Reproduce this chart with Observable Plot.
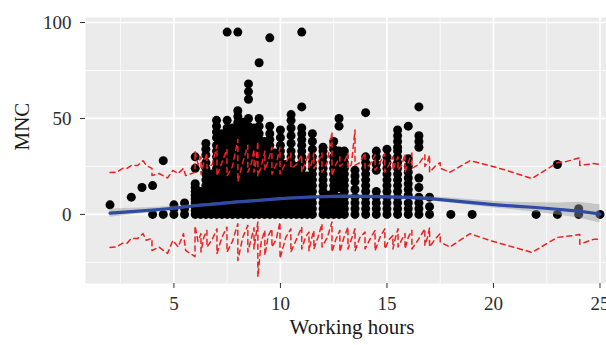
<!DOCTYPE html>
<html>
<head>
<meta charset="utf-8">
<script src="https://cdn.jsdelivr.net/npm/d3@7"></script>
<script src="https://cdn.jsdelivr.net/npm/@observablehq/plot@0.6"></script>
<style>
  html, body { margin: 0; padding: 0; background: white; overflow: hidden; }
</style>
</head>
<body>
<div id="chart"></div>
<script>
// ---- Data ----
const colHours = [2, 3, 3.5, 4, 4.5, 5, 5.5, 6, 6.25, 6.5, 6.75, 7, 7.25, 7.5, 7.75, 8, 8.25, 8.5, 8.75, 9, 9.25, 9.5, 9.75,
  10, 10.25, 10.5, 10.75, 11, 11.25, 11.5, 12, 12.25, 12.5, 12.75, 13, 13.5, 14, 14.5, 15, 15.5, 16, 16.5, 17, 18, 19, 22, 23, 24, 25];
const colMNC = [
  [5], [9], [14], [0, 15], [0, 28], [0, 3, 5], [0, 3, 6],
  [0, 2, 4, 6, 8, 10, 12, 14, 16, 24, 30],
  [0, 3, 6, 9, 12],
  [0, 3, 6, 9, 12, 15, 18, 21, 24, 27, 31, 34, 37],
  [0, 3, 6, 9, 12, 15, 18, 21],
  [0, 3, 6, 9, 12, 15, 18, 21, 24, 27, 30, 33, 36, 40, 43, 46, 49],
  [0, 3, 6, 9, 12, 15, 18, 21, 24, 27, 30, 34, 38, 42],
  [0, 3, 6, 9, 12, 15, 18, 21, 24, 27, 30, 33, 36, 39, 42, 45, 49, 95],
  [0, 3, 6, 9, 12, 15, 18, 21, 24, 27, 30, 33, 37, 41, 45],
  [0, 3, 6, 9, 12, 15, 18, 21, 24, 27, 30, 33, 36, 39, 42, 45, 48, 51, 54, 95],
  [0, 3, 6, 9, 12, 15, 18, 21, 24, 27, 30, 33, 36, 40, 44, 48],
  [0, 3, 6, 9, 12, 15, 18, 21, 24, 27, 30, 33, 36, 39, 42, 46, 50, 60, 64, 68],
  [0, 3, 6, 9, 12, 15, 18, 21, 24, 27, 30, 33, 37, 41, 45],
  [0, 3, 6, 9, 12, 15, 18, 21, 24, 27, 30, 33, 36, 39, 42, 46, 50, 79],
  [0, 3, 6, 9, 12, 15, 18, 21, 24, 27, 30, 34, 38],
  [0, 3, 6, 9, 12, 15, 18, 21, 24, 27, 30, 33, 36, 39, 42, 46, 92],
  [0, 3, 6, 9, 12, 15, 18, 21, 24, 28, 32],
  [0, 3, 6, 9, 12, 15, 18, 21, 24, 27, 30, 33, 36, 40, 44],
  [0, 3, 6, 9, 12, 15, 18, 22, 26],
  [0, 3, 6, 9, 12, 15, 18, 21, 24, 27, 30, 33, 37, 41, 45, 49, 52],
  [0, 3, 6, 9, 12, 15, 18, 21, 25],
  [0, 3, 6, 9, 12, 15, 18, 21, 24, 27, 30, 33, 36, 39, 42, 45, 56, 95],
  [0, 3, 6, 9, 12, 16, 20],
  [0, 3, 6, 9, 12, 15, 18, 21, 24, 27, 30, 34, 38, 42],
  [0, 3, 6, 9, 12, 15, 18, 21, 24, 27, 30, 33, 35],
  [0, 3, 6, 10],
  [0, 3, 6, 9, 12, 15, 18, 21, 24, 27, 30, 34, 38],
  [0, 3, 6, 9, 14, 18, 22, 26, 30, 33, 46, 50],
  [0, 3, 6, 9, 12, 15, 18, 21, 24, 27, 30, 33],
  [0, 3, 6, 9, 13, 17, 20, 23],
  [0, 3, 6, 9, 12, 15, 18, 21, 24, 27, 30, 53],
  [0, 3, 6, 9, 12, 23, 26, 30, 33],
  [0, 3, 6, 9, 12, 15, 18, 21, 24, 27, 30, 34],
  [0, 3, 6, 9, 12, 15, 18, 21, 24, 27, 30, 33, 35, 38, 41, 44],
  [0, 3, 6, 10, 13, 16, 19, 22, 25, 29, 46],
  [0, 3, 6, 9, 14, 19, 35, 38, 41, 56],
  [0, 4, 9], [0], [0], [0], [0, 26], [0, 3], [0]
];

// smooth fit with confidence band
const smoothHours = [2, 3, 4, 5, 6, 7, 8, 9, 10, 11, 12, 13, 14, 15, 16, 17, 18, 19, 20, 21, 22, 23, 24, 25];
const smoothFit  = [0.7, 1.5, 2.3, 3.2, 4.5, 5.5, 6.5, 7.3, 8.2, 8.8, 9.3, 9.5, 9.4, 9.1, 8.8, 8.2, 7.2, 6.1, 5.1, 4.3, 3.6, 2.7, 1.7, 0.2];
const smoothLow  = [-1.5, -0.2, 1.0, 2.2, 3.8, 4.9, 6.0, 6.8, 7.7, 8.3, 8.8, 9.0, 8.9, 8.5, 8.0, 7.2, 5.9, 4.6, 3.4, 2.3, 1.1, -0.3, -1.9, -4.5];
const smoothHigh = [2.8, 3.2, 3.6, 4.2, 5.2, 6.1, 7.0, 7.8, 8.7, 9.3, 9.8, 10.0, 9.9, 9.7, 9.6, 9.2, 8.5, 7.6, 6.8, 6.3, 6.1, 5.9, 6.3, 5.0];

// dashed red interval lines (observations sorted by hours)
const redHours = [2.0, 2.3, 2.6, 2.8, 3.0, 3.3, 3.55, 3.7, 3.97, 3.97, 4.3, 4.7, 4.95, 5.2, 5.45, 5.55, 5.99, 5.99,
  6.13, 6.27, 6.27, 6.4, 6.55, 6.55, 6.8, 7.02, 7.02, 7.25, 7.49, 7.49, 7.75, 8.0, 8.0, 8.23, 8.47, 8.47, 8.62,
  8.76, 8.76, 8.85, 8.94, 8.94, 9.1, 9.27, 9.27, 9.43, 9.6, 9.6, 9.8, 9.98, 9.98, 10.25, 10.49, 10.49, 10.75,
  11.0, 11.0, 11.17, 11.34, 11.34, 11.45, 11.57, 11.57, 11.76, 11.95, 11.95, 12.2, 12.42, 12.42, 12.6, 12.79, 12.79,
  12.98, 13.17, 13.17, 13.33, 13.5, 13.5, 13.73, 13.97, 13.97, 14.2, 14.44, 14.44, 14.67, 14.9, 14.9, 15.1,
  15.28, 15.28, 15.4, 15.52, 15.52, 15.7, 15.85, 15.85, 16.0, 16.17, 16.17, 16.48, 16.78, 16.78, 16.9, 17.0, 17.0,
  17.25, 17.5, 17.5, 17.96, 18.9, 19.8, 20.6, 21.8, 23.0, 23.4, 24.05, 24.05, 24.7, 25.0];
const redUpper = [21.9, 22.0, 24.0, 24.0, 25.5, 25.5, 28.0, 25.5, 24.0, 20.3, 21.3, 19.0, 22.9, 21.3, 24.0, 20.3, 21.9, 33.0,
  26, 30, 21, 27, 32, 24, 26, 36, 20, 27, 34, 20, 25, 39, 17, 27, 36, 22, 26,
  34, 22, 27, 38, 20, 25, 33, 23, 28, 35, 21, 26, 35, 21, 27, 32, 24, 26,
  31, 22, 27, 32, 24, 26, 32, 24, 27, 32, 22, 27, 43, 20, 26, 30, 25,
  27, 32, 24, 26, 44, 25.5, 27, 32, 24, 26, 31, 23, 27, 31.6, 22, 26,
  30, 23, 27, 30, 23, 26, 31.6, 22, 27, 32, 24, 26, 31, 25, 27, 31, 22,
  25, 27, 24, 22, 28, 25.5, 23, 18.7, 27, 27.5, 29.5, 25.5, 26.5, 26];
const redLower = [-17.2, -17.0, -15.0, -15.0, -12.5, -12.5, -10.0, -13.5, -12.5, -18.8, -17.0, -20.3, -13.5, -17.0, -10.0, -18.8, -22.0, -6.0,
  -14, -10, -19.6, -12, -8.3, -17, -13, -7.5, -20.5, -12, -6.6, -19.6, -14, -4.9, -24, -12, -5.7, -19.6, -13,
  -7, -18, -11, -4, -32.6, -14, -8.3, -21.4, -11, -7.5, -17, -13, -4, -23, -12, -7.5, -19.6, -13,
  -6.6, -18, -12, -9.2, -19, -13, -8.3, -18, -12, -4.9, -17, -12, -4, -19.6, -13, -8.3, -19.6,
  -12, -6.6, -18, -13, -7.5, -19, -12, -9.2, -18, -13, -8.3, -19, -12, -7.5, -18, -13,
  -11, -18, -12, -7.5, -17, -13, -10, -18, -12, -8.3, -18, -13, -7.5, -16.1, -12, -7, -17,
  -13, -10, -14.4, -17, -10, -13.5, -16, -19.8, -12, -11.5, -10.5, -15.5, -13, -13];

// axes
const xTicks = [5, 10, 15, 20, 25];
const xMinor = [2.5, 7.5, 12.5, 17.5, 22.5];
const yTicks = [0, 50, 100];
const yMinor = [-25, 25, 75];

// ---- Tables built for the library ----
const points = colHours.flatMap((h, i) => colMNC[i].map(v => ({h, v})));
const smooth = smoothHours.map((h, i) => ({h, fit: smoothFit[i], lo: smoothLow[i], hi: smoothHigh[i]}));
const red = redHours.map((h, i) => ({h, up: redUpper[i], lo: redLower[i]}));

const chart = Plot.plot({
  width: 606,
  height: 345,
  marginLeft: 85,
  marginRight: 0,
  marginTop: 17,
  marginBottom: 62,
  x: {domain: [0.85, 26.15], range: [85, 624]},
  y: {domain: [-36, 102.6], range: [283, 17]},
  style: {fontFamily: "'Liberation Serif', 'DejaVu Serif', serif", background: "white", color: "#2b2b2b"},
  marks: [
    Plot.frame({fill: "#EBEBEB", stroke: null}),
    Plot.ruleX(xMinor, {stroke: "white", strokeWidth: 0.8}),
    Plot.ruleY(yMinor, {stroke: "white", strokeWidth: 0.8}),
    Plot.ruleX(xTicks, {stroke: "white", strokeWidth: 1.7}),
    Plot.ruleY(yTicks, {stroke: "white", strokeWidth: 1.7}),
    Plot.dot(points, {x: "h", y: "v", r: 4.5, fill: "black", stroke: null}),
    Plot.areaY(smooth, {x: "h", y1: "lo", y2: "hi", fill: "#999999", fillOpacity: 0.45}),
    Plot.line(smooth, {x: "h", y: "fit", stroke: "#2F4BA3", strokeWidth: 3.2}),
    Plot.line(red, {x: "h", y: "up", stroke: "#EE2020", strokeWidth: 1.5, strokeDasharray: "5,4"}),
    Plot.line(red, {x: "h", y: "lo", stroke: "#EE2020", strokeWidth: 1.5, strokeDasharray: "5,4"}),
    Plot.axisX({ticks: xTicks, tickSize: 5, tickPadding: 8, fontSize: 19, label: null, stroke: "#333"}),
    Plot.axisY({ticks: yTicks, tickSize: 5, tickPadding: 9, fontSize: 19, label: null, stroke: "#333"}),
    Plot.text(["Working hours"], {frameAnchor: "bottom", dx: 6, dy: 50, fontSize: 21, fill: "#1a1a1a"}),
    Plot.text(["MNC"], {frameAnchor: "left", dx: -63, rotate: -90, fontSize: 21, fill: "#1a1a1a"})
  ]
});
document.getElementById("chart").appendChild(chart);
</script>
</body>
</html>
